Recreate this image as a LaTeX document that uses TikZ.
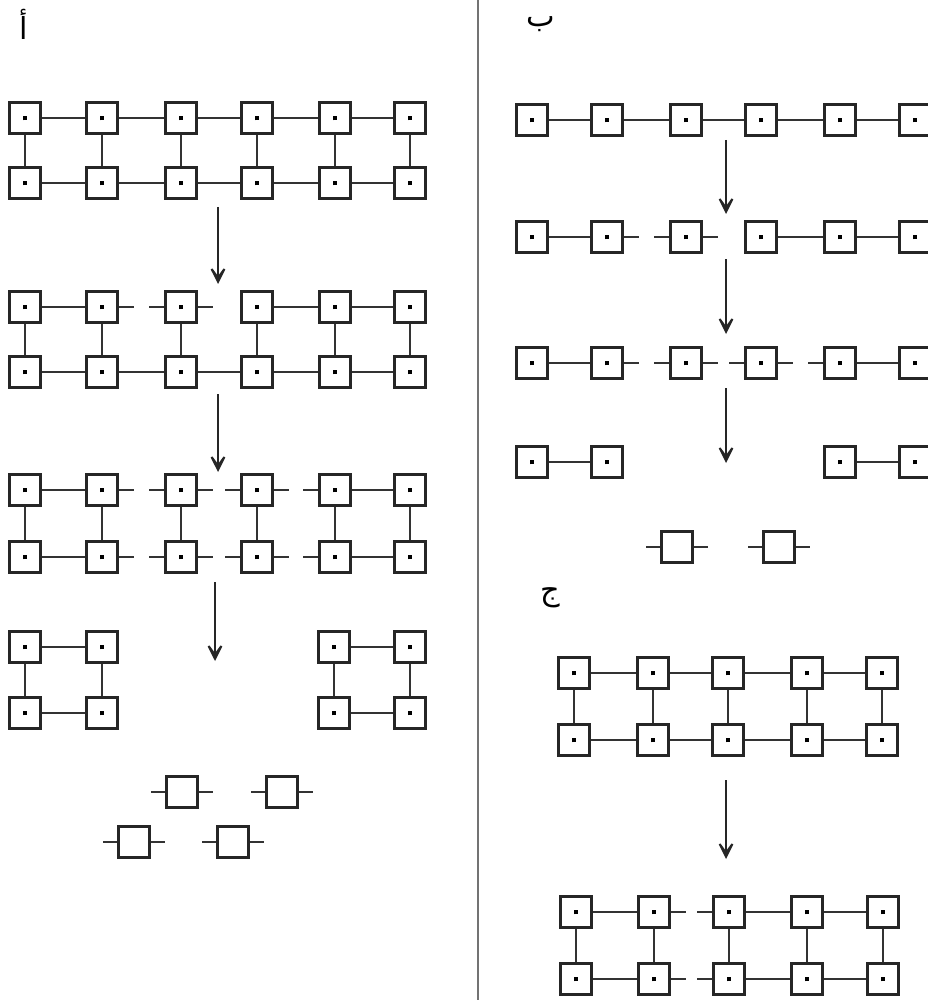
\documentclass[tikz,border=0pt]{standalone}
\usepackage{fontspec}
\newfontfamily\arabicfont[Script=Arabic]{DejaVu Sans}
\TeXXeTstate=1
\usepackage{tikz}
\usetikzlibrary{arrows.meta}

\begin{document}
\begin{tikzpicture}[
    x=0.02cm, y=-0.02cm,
    cell/.style={draw=black!85, line width=1.7pt, fill=white,
                 minimum size=0.62cm, inner sep=0pt,
                 execute at begin node={\rule{2.6pt}{2.6pt}}},
    ecell/.style={draw=black!85, line width=1.7pt, fill=white,
                  minimum size=0.62cm, inner sep=0pt},
    link/.style={line width=1.3pt, black!80},
    flow/.style={-{Stealth[length=5mm, width=5mm, inset=3.4mm]},
                 line width=1.3pt, black!85},
    lbl/.style={font=\LARGE\arabicfont, inner sep=0pt}
]
\useasboundingbox (0,0) rectangle (927,1000);

% --- separador ---
\coordinate (divtop) at (478,0);
\coordinate (divbot) at (478,1000);
\draw[line width=1.5pt, black!55] (divtop) -- (divbot);

% --- etiquetas ---
\node[lbl] (labA) at (24,24) {\beginR أ\endR};
\node[lbl] (labB) at (541,24) {\beginR ب\endR};
\node[lbl] (labC) at (550,598) {\beginR ج\endR};

% --- Panel A, etapa 1 ---
\foreach \c/\x in {1/25,2/102,3/181,4/257,5/335,6/410} {
  \node[cell] (A1t\c) at (\x,118) {};
  \node[cell] (A1b\c) at (\x,183) {};
}
\foreach \i [count=\j from 2] in {1,...,5} {
  \draw[link] (A1t\i) -- (A1t\j);
  \draw[link] (A1b\i) -- (A1b\j);
}
\foreach \i in {1,...,6} \draw[link] (A1t\i) -- (A1b\i);

\coordinate (fA1s) at (218,207);
\coordinate (fA1e) at (218,284);
\draw[flow] (fA1s) -- (fA1e);

% --- Panel A, etapa 2 ---
\foreach \c/\x in {1/25,2/102,3/181,4/257,5/335,6/410} {
  \node[cell] (A2t\c) at (\x,307) {};
  \node[cell] (A2b\c) at (\x,372) {};
}
\foreach \i/\j in {1/2,4/5,5/6} \draw[link] (A2t\i) -- (A2t\j);
\foreach \i [count=\j from 2] in {1,...,5} \draw[link] (A2b\i) -- (A2b\j);
\foreach \i in {1,...,6} \draw[link] (A2t\i) -- (A2b\i);
\draw[link] (A2t2.east) -- ++(15,0);
\draw[link] (A2t3.west) -- ++(-15,0);
\draw[link] (A2t3.east) -- ++(15,0);

\coordinate (fA2s) at (218,394);
\coordinate (fA2e) at (218,472);
\draw[flow] (fA2s) -- (fA2e);

% --- Panel A, etapa 3 ---
\foreach \c/\x in {1/25,2/102,3/181,4/257,5/335,6/410} {
  \node[cell] (A3t\c) at (\x,490) {};
  \node[cell] (A3b\c) at (\x,557) {};
}
\foreach \r in {t,b} {
  \draw[link] (A3\r1) -- (A3\r2);
  \draw[link] (A3\r5) -- (A3\r6);
  \draw[link] (A3\r2.east) -- ++(15,0);
  \draw[link] (A3\r3.west) -- ++(-15,0);
  \draw[link] (A3\r3.east) -- ++(15,0);
  \draw[link] (A3\r4.west) -- ++(-15,0);
  \draw[link] (A3\r4.east) -- ++(15,0);
  \draw[link] (A3\r5.west) -- ++(-15,0);
}
\foreach \i in {1,...,6} \draw[link] (A3t\i) -- (A3b\i);

\coordinate (fA3s) at (215,582);
\coordinate (fA3e) at (215,661);
\draw[flow] (fA3s) -- (fA3e);

% --- Panel A, etapa 4 ---
\foreach \c/\x in {1/25,2/102,5/334,6/410} {
  \node[cell] (A4t\c) at (\x,647) {};
  \node[cell] (A4b\c) at (\x,713) {};
}
\foreach \i/\j in {1/2,5/6} {
  \draw[link] (A4t\i) -- (A4t\j);
  \draw[link] (A4b\i) -- (A4b\j);
}
\foreach \i in {1,2,5,6} \draw[link] (A4t\i) -- (A4b\i);

% --- Panel A, etapa 5 ---
\node[ecell] (A5a) at (182,792) {};
\node[ecell] (A5b) at (282,792) {};
\node[ecell] (A5c) at (134,842) {};
\node[ecell] (A5d) at (233,842) {};
\foreach \n in {A5a,A5b,A5c,A5d} {
  \draw[link] (\n.west) -- ++(-14,0);
  \draw[link] (\n.east) -- ++(14,0);
}

% --- Panel B, fila 1 ---
\foreach \c/\x in {1/532,2/607,3/686,4/761,5/840,6/915} \node[cell] (B1\c) at (\x,120) {};
\foreach \i [count=\j from 2] in {1,...,5} \draw[link] (B1\i) -- (B1\j);

\coordinate (fB1s) at (726,140);
\coordinate (fB1e) at (726,214);
\draw[flow] (fB1s) -- (fB1e);

% --- Panel B, fila 2 ---
\foreach \c/\x in {1/532,2/607,3/686,4/761,5/840,6/915} \node[cell] (B2\c) at (\x,237) {};
\foreach \i/\j in {1/2,4/5,5/6} \draw[link] (B2\i) -- (B2\j);
\draw[link] (B22.east) -- ++(15,0);
\draw[link] (B23.west) -- ++(-15,0);
\draw[link] (B23.east) -- ++(15,0);

\coordinate (fB2s) at (726,259);
\coordinate (fB2e) at (726,334);
\draw[flow] (fB2s) -- (fB2e);

% --- Panel B, fila 3 ---
\foreach \c/\x in {1/532,2/607,3/686,4/761,5/840,6/915} \node[cell] (B3\c) at (\x,363) {};
\draw[link] (B31) -- (B32);
\draw[link] (B35) -- (B36);
\draw[link] (B32.east) -- ++(15,0);
\draw[link] (B33.west) -- ++(-15,0);
\draw[link] (B33.east) -- ++(15,0);
\draw[link] (B34.west) -- ++(-15,0);
\draw[link] (B34.east) -- ++(15,0);
\draw[link] (B35.west) -- ++(-15,0);

\coordinate (fB3s) at (726,388);
\coordinate (fB3e) at (726,463);
\draw[flow] (fB3s) -- (fB3e);

% --- Panel B, fila 4 ---
\foreach \c/\x in {1/532,2/607,5/840,6/915} \node[cell] (B4\c) at (\x,462) {};
\draw[link] (B41) -- (B42);
\draw[link] (B45) -- (B46);

% --- Panel B, fila 5 ---
\node[ecell] (B5a) at (677,547) {};
\node[ecell] (B5b) at (779,547) {};
\foreach \n in {B5a,B5b} {
  \draw[link] (\n.west) -- ++(-14,0);
  \draw[link] (\n.east) -- ++(14,0);
}

% --- Panel C, etapa 1 ---
\foreach \c/\x in {1/574,2/653,3/728,4/807,5/882} {
  \node[cell] (C1t\c) at (\x,673) {};
  \node[cell] (C1b\c) at (\x,740) {};
}
\foreach \i [count=\j from 2] in {1,...,4} {
  \draw[link] (C1t\i) -- (C1t\j);
  \draw[link] (C1b\i) -- (C1b\j);
}
\foreach \i in {1,...,5} \draw[link] (C1t\i) -- (C1b\i);

\coordinate (fC1s) at (726,780);
\coordinate (fC1e) at (726,859);
\draw[flow] (fC1s) -- (fC1e);

% --- Panel C, etapa 2 ---
\foreach \c/\x in {1/576,2/654,3/729,4/807,5/883} {
  \node[cell] (C2t\c) at (\x,912) {};
  \node[cell] (C2b\c) at (\x,979) {};
}
\foreach \r in {t,b} {
  \draw[link] (C2\r1) -- (C2\r2);
  \draw[link] (C2\r3) -- (C2\r4);
  \draw[link] (C2\r4) -- (C2\r5);
  \draw[link] (C2\r2.east) -- ++(15,0);
  \draw[link] (C2\r3.west) -- ++(-15,0);
}
\foreach \i in {1,...,5} \draw[link] (C2t\i) -- (C2b\i);
\end{tikzpicture}
\end{document}
